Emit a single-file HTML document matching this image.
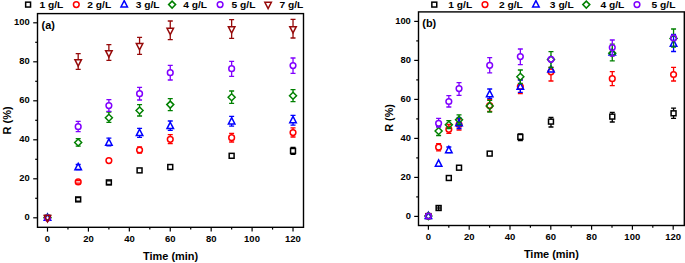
<!DOCTYPE html>
<html><head><meta charset="utf-8"><style>
html,body{margin:0;padding:0;background:#fff;width:685px;height:263px;overflow:hidden}
svg{display:block}
text{font-family:"Liberation Sans",sans-serif;font-weight:bold}
</style></head><body>
<svg width="685" height="263" viewBox="0 0 685 263">
<rect width="685" height="263" fill="#fff"/>
<rect x="37.5" y="13.6" width="266.0" height="213.70000000000002" fill="none" stroke="#000" stroke-width="1.4"/>
<line x1="47.50" y1="227.3" x2="47.50" y2="231.60000000000002" stroke="#000" stroke-width="1.2"/>
<text x="44.87" y="241.60" font-size="9.5" font-family="Liberation Sans, sans-serif" font-weight="bold" fill="#000">0</text>
<line x1="67.96" y1="227.3" x2="67.96" y2="229.60000000000002" stroke="#000" stroke-width="1.2"/>
<line x1="88.42" y1="227.3" x2="88.42" y2="231.60000000000002" stroke="#000" stroke-width="1.2"/>
<text x="83.17" y="241.60" font-size="9.5" font-family="Liberation Sans, sans-serif" font-weight="bold" fill="#000">20</text>
<line x1="108.88" y1="227.3" x2="108.88" y2="229.60000000000002" stroke="#000" stroke-width="1.2"/>
<line x1="129.34" y1="227.3" x2="129.34" y2="231.60000000000002" stroke="#000" stroke-width="1.2"/>
<text x="124.18" y="241.60" font-size="9.5" font-family="Liberation Sans, sans-serif" font-weight="bold" fill="#000">40</text>
<line x1="149.80" y1="227.3" x2="149.80" y2="229.60000000000002" stroke="#000" stroke-width="1.2"/>
<line x1="170.26" y1="227.3" x2="170.26" y2="231.60000000000002" stroke="#000" stroke-width="1.2"/>
<text x="165.00" y="241.60" font-size="9.5" font-family="Liberation Sans, sans-serif" font-weight="bold" fill="#000">60</text>
<line x1="190.72" y1="227.3" x2="190.72" y2="229.60000000000002" stroke="#000" stroke-width="1.2"/>
<line x1="211.18" y1="227.3" x2="211.18" y2="231.60000000000002" stroke="#000" stroke-width="1.2"/>
<text x="205.94" y="241.60" font-size="9.5" font-family="Liberation Sans, sans-serif" font-weight="bold" fill="#000">80</text>
<line x1="231.64" y1="227.3" x2="231.64" y2="229.60000000000002" stroke="#000" stroke-width="1.2"/>
<line x1="252.10" y1="227.3" x2="252.10" y2="231.60000000000002" stroke="#000" stroke-width="1.2"/>
<text x="244.07" y="241.60" font-size="9.5" font-family="Liberation Sans, sans-serif" font-weight="bold" fill="#000">100</text>
<line x1="272.56" y1="227.3" x2="272.56" y2="229.60000000000002" stroke="#000" stroke-width="1.2"/>
<line x1="293.02" y1="227.3" x2="293.02" y2="231.60000000000002" stroke="#000" stroke-width="1.2"/>
<text x="284.99" y="241.60" font-size="9.5" font-family="Liberation Sans, sans-serif" font-weight="bold" fill="#000">120</text>
<line x1="33.2" y1="217.80" x2="37.5" y2="217.80" stroke="#000" stroke-width="1.2"/>
<text x="24.56" y="220.40" font-size="9.4" font-family="Liberation Sans, sans-serif" font-weight="bold" fill="#000">0</text>
<line x1="35.2" y1="198.30" x2="37.5" y2="198.30" stroke="#000" stroke-width="1.2"/>
<line x1="33.2" y1="178.80" x2="37.5" y2="178.80" stroke="#000" stroke-width="1.2"/>
<text x="19.33" y="181.40" font-size="9.4" font-family="Liberation Sans, sans-serif" font-weight="bold" fill="#000">20</text>
<line x1="35.2" y1="159.30" x2="37.5" y2="159.30" stroke="#000" stroke-width="1.2"/>
<line x1="33.2" y1="139.80" x2="37.5" y2="139.80" stroke="#000" stroke-width="1.2"/>
<text x="19.33" y="142.40" font-size="9.4" font-family="Liberation Sans, sans-serif" font-weight="bold" fill="#000">40</text>
<line x1="35.2" y1="120.30" x2="37.5" y2="120.30" stroke="#000" stroke-width="1.2"/>
<line x1="33.2" y1="100.80" x2="37.5" y2="100.80" stroke="#000" stroke-width="1.2"/>
<text x="19.33" y="103.40" font-size="9.4" font-family="Liberation Sans, sans-serif" font-weight="bold" fill="#000">60</text>
<line x1="35.2" y1="81.30" x2="37.5" y2="81.30" stroke="#000" stroke-width="1.2"/>
<line x1="33.2" y1="61.80" x2="37.5" y2="61.80" stroke="#000" stroke-width="1.2"/>
<text x="19.33" y="64.40" font-size="9.4" font-family="Liberation Sans, sans-serif" font-weight="bold" fill="#000">80</text>
<line x1="35.2" y1="42.30" x2="37.5" y2="42.30" stroke="#000" stroke-width="1.2"/>
<line x1="33.2" y1="22.80" x2="37.5" y2="22.80" stroke="#000" stroke-width="1.2"/>
<text x="14.10" y="25.40" font-size="9.4" font-family="Liberation Sans, sans-serif" font-weight="bold" fill="#000">100</text>
<text transform="translate(143.08 259.80) scale(0.96 1)" font-size="11.4" font-family="Liberation Sans, sans-serif" font-weight="bold" fill="#000">Time (min)</text>
<text transform="translate(10.60 134.40) rotate(-90)" font-size="11.0" font-family="Liberation Sans, sans-serif" font-weight="bold">R (%)</text>
<text x="41.56" y="28.70" font-size="10.9" font-family="Liberation Sans, sans-serif" font-weight="bold" fill="#000">(a)</text>
<rect x="418.5" y="11.9" width="265.79999999999995" height="213.6" fill="none" stroke="#000" stroke-width="1.4"/>
<line x1="428.40" y1="225.5" x2="428.40" y2="229.8" stroke="#000" stroke-width="1.2"/>
<text x="425.77" y="239.80" font-size="9.5" font-family="Liberation Sans, sans-serif" font-weight="bold" fill="#000">0</text>
<line x1="448.80" y1="225.5" x2="448.80" y2="227.8" stroke="#000" stroke-width="1.2"/>
<line x1="469.20" y1="225.5" x2="469.20" y2="229.8" stroke="#000" stroke-width="1.2"/>
<text x="463.95" y="239.80" font-size="9.5" font-family="Liberation Sans, sans-serif" font-weight="bold" fill="#000">20</text>
<line x1="489.60" y1="225.5" x2="489.60" y2="227.8" stroke="#000" stroke-width="1.2"/>
<line x1="510.00" y1="225.5" x2="510.00" y2="229.8" stroke="#000" stroke-width="1.2"/>
<text x="504.84" y="239.80" font-size="9.5" font-family="Liberation Sans, sans-serif" font-weight="bold" fill="#000">40</text>
<line x1="530.40" y1="225.5" x2="530.40" y2="227.8" stroke="#000" stroke-width="1.2"/>
<line x1="550.80" y1="225.5" x2="550.80" y2="229.8" stroke="#000" stroke-width="1.2"/>
<text x="545.54" y="239.80" font-size="9.5" font-family="Liberation Sans, sans-serif" font-weight="bold" fill="#000">60</text>
<line x1="571.20" y1="225.5" x2="571.20" y2="227.8" stroke="#000" stroke-width="1.2"/>
<line x1="591.60" y1="225.5" x2="591.60" y2="229.8" stroke="#000" stroke-width="1.2"/>
<text x="586.36" y="239.80" font-size="9.5" font-family="Liberation Sans, sans-serif" font-weight="bold" fill="#000">80</text>
<line x1="612.00" y1="225.5" x2="612.00" y2="227.8" stroke="#000" stroke-width="1.2"/>
<line x1="632.40" y1="225.5" x2="632.40" y2="229.8" stroke="#000" stroke-width="1.2"/>
<text x="624.37" y="239.80" font-size="9.5" font-family="Liberation Sans, sans-serif" font-weight="bold" fill="#000">100</text>
<line x1="652.80" y1="225.5" x2="652.80" y2="227.8" stroke="#000" stroke-width="1.2"/>
<line x1="673.20" y1="225.5" x2="673.20" y2="229.8" stroke="#000" stroke-width="1.2"/>
<text x="665.17" y="239.80" font-size="9.5" font-family="Liberation Sans, sans-serif" font-weight="bold" fill="#000">120</text>
<line x1="414.2" y1="216.40" x2="418.5" y2="216.40" stroke="#000" stroke-width="1.2"/>
<text x="405.66" y="219.00" font-size="9.4" font-family="Liberation Sans, sans-serif" font-weight="bold" fill="#000">0</text>
<line x1="416.2" y1="196.90" x2="418.5" y2="196.90" stroke="#000" stroke-width="1.2"/>
<line x1="414.2" y1="177.40" x2="418.5" y2="177.40" stroke="#000" stroke-width="1.2"/>
<text x="400.43" y="180.00" font-size="9.4" font-family="Liberation Sans, sans-serif" font-weight="bold" fill="#000">20</text>
<line x1="416.2" y1="157.90" x2="418.5" y2="157.90" stroke="#000" stroke-width="1.2"/>
<line x1="414.2" y1="138.40" x2="418.5" y2="138.40" stroke="#000" stroke-width="1.2"/>
<text x="400.43" y="141.00" font-size="9.4" font-family="Liberation Sans, sans-serif" font-weight="bold" fill="#000">40</text>
<line x1="416.2" y1="118.90" x2="418.5" y2="118.90" stroke="#000" stroke-width="1.2"/>
<line x1="414.2" y1="99.40" x2="418.5" y2="99.40" stroke="#000" stroke-width="1.2"/>
<text x="400.43" y="102.00" font-size="9.4" font-family="Liberation Sans, sans-serif" font-weight="bold" fill="#000">60</text>
<line x1="416.2" y1="79.90" x2="418.5" y2="79.90" stroke="#000" stroke-width="1.2"/>
<line x1="414.2" y1="60.40" x2="418.5" y2="60.40" stroke="#000" stroke-width="1.2"/>
<text x="400.43" y="63.00" font-size="9.4" font-family="Liberation Sans, sans-serif" font-weight="bold" fill="#000">80</text>
<line x1="416.2" y1="40.90" x2="418.5" y2="40.90" stroke="#000" stroke-width="1.2"/>
<line x1="414.2" y1="21.40" x2="418.5" y2="21.40" stroke="#000" stroke-width="1.2"/>
<text x="395.20" y="24.00" font-size="9.4" font-family="Liberation Sans, sans-serif" font-weight="bold" fill="#000">100</text>
<text transform="translate(523.88 258.00) scale(0.96 1)" font-size="11.4" font-family="Liberation Sans, sans-serif" font-weight="bold" fill="#000">Time (min)</text>
<text transform="translate(393.00 131.69) rotate(-90)" font-size="10.8" font-family="Liberation Sans, sans-serif" font-weight="bold">R (%)</text>
<text x="422.26" y="26.90" font-size="10.9" font-family="Liberation Sans, sans-serif" font-weight="bold" fill="#000">(b)</text>
<rect x="25.65" y="2.15" width="4.9" height="4.9" fill="none" stroke="#000000" stroke-width="1.5"/>
<text transform="translate(39.41 7.75) scale(1.075 1)" font-size="9.5" font-family="Liberation Sans, sans-serif" font-weight="bold" fill="#000">1 g/L</text>
<circle cx="76.30" cy="4.60" r="2.85" fill="none" stroke="#ff0000" stroke-width="1.5"/>
<text transform="translate(87.30 7.75) scale(1.075 1)" font-size="9.5" font-family="Liberation Sans, sans-serif" font-weight="bold" fill="#000">2 g/L</text>
<path d="M124.20 0.65L127.45 6.95L120.95 6.95Z" fill="none" stroke="#0000ff" stroke-width="1.5"/>
<text transform="translate(135.67 7.75) scale(1.075 1)" font-size="9.5" font-family="Liberation Sans, sans-serif" font-weight="bold" fill="#000">3 g/L</text>
<path d="M172.10 1.10L175.60 4.60L172.10 8.10L168.60 4.60Z" fill="none" stroke="#008000" stroke-width="1.5"/>
<text transform="translate(183.25 7.75) scale(1.075 1)" font-size="9.5" font-family="Liberation Sans, sans-serif" font-weight="bold" fill="#000">4 g/L</text>
<circle cx="220.10" cy="4.60" r="2.85" fill="none" stroke="#8000ff" stroke-width="1.5"/>
<text transform="translate(231.59 7.75) scale(1.075 1)" font-size="9.5" font-family="Liberation Sans, sans-serif" font-weight="bold" fill="#000">5 g/L</text>
<path d="M264.85 2.25L271.35 2.25L268.10 8.55Z" fill="none" stroke="#960a0a" stroke-width="1.5"/>
<text transform="translate(279.46 7.75) scale(1.075 1)" font-size="9.5" font-family="Liberation Sans, sans-serif" font-weight="bold" fill="#000">7 g/L</text>
<rect x="431.85" y="2.15" width="4.9" height="4.9" fill="none" stroke="#000000" stroke-width="1.5"/>
<text transform="translate(448.36 7.75) scale(1.075 1)" font-size="9.5" font-family="Liberation Sans, sans-serif" font-weight="bold" fill="#000">1 g/L</text>
<circle cx="485.00" cy="4.60" r="2.85" fill="none" stroke="#ff0000" stroke-width="1.5"/>
<text transform="translate(498.95 7.75) scale(1.075 1)" font-size="9.5" font-family="Liberation Sans, sans-serif" font-weight="bold" fill="#000">2 g/L</text>
<path d="M535.90 0.65L539.15 6.95L532.65 6.95Z" fill="none" stroke="#0000ff" stroke-width="1.5"/>
<text transform="translate(549.87 7.75) scale(1.075 1)" font-size="9.5" font-family="Liberation Sans, sans-serif" font-weight="bold" fill="#000">3 g/L</text>
<path d="M586.30 1.10L589.80 4.60L586.30 8.10L582.80 4.60Z" fill="none" stroke="#008000" stroke-width="1.5"/>
<text transform="translate(600.45 7.75) scale(1.075 1)" font-size="9.5" font-family="Liberation Sans, sans-serif" font-weight="bold" fill="#000">4 g/L</text>
<circle cx="637.00" cy="4.60" r="2.85" fill="none" stroke="#8000ff" stroke-width="1.5"/>
<text transform="translate(651.59 7.75) scale(1.075 1)" font-size="9.5" font-family="Liberation Sans, sans-serif" font-weight="bold" fill="#000">5 g/L</text>
<rect x="45.05" y="215.35" width="4.9" height="4.9" fill="none" stroke="#000000" stroke-width="1.5"/>
<path d="M75.69 197.70H80.69M75.69 201.10H80.69" stroke="#000000" stroke-width="1.3" fill="none"/>
<rect x="75.74" y="196.95" width="4.9" height="4.9" fill="none" stroke="#000000" stroke-width="1.5"/>
<path d="M106.38 180.90H111.38M106.38 184.50H111.38" stroke="#000000" stroke-width="1.3" fill="none"/>
<rect x="106.43" y="179.95" width="4.9" height="4.9" fill="none" stroke="#000000" stroke-width="1.5"/>
<rect x="137.12" y="167.95" width="4.9" height="4.9" fill="none" stroke="#000000" stroke-width="1.5"/>
<rect x="167.81" y="164.55" width="4.9" height="4.9" fill="none" stroke="#000000" stroke-width="1.5"/>
<rect x="229.19" y="153.35" width="4.9" height="4.9" fill="none" stroke="#000000" stroke-width="1.5"/>
<path d="M290.52 147.40H295.52M290.52 154.40H295.52M293.02 147.40V148.45M293.02 153.35V154.40" stroke="#000000" stroke-width="1.3" fill="none"/>
<rect x="290.57" y="148.45" width="4.9" height="4.9" fill="none" stroke="#000000" stroke-width="1.5"/>
<circle cx="47.50" cy="217.80" r="2.85" fill="none" stroke="#ff0000" stroke-width="1.5"/>
<path d="M75.69 180.60H80.69M75.69 183.20H80.69" stroke="#ff0000" stroke-width="1.3" fill="none"/>
<circle cx="78.19" cy="181.90" r="2.85" fill="none" stroke="#ff0000" stroke-width="1.5"/>
<circle cx="108.88" cy="160.60" r="2.85" fill="none" stroke="#ff0000" stroke-width="1.5"/>
<path d="M137.07 146.90H142.07M137.07 153.10H142.07M139.57 146.90V147.15M139.57 152.85V153.10" stroke="#ff0000" stroke-width="1.3" fill="none"/>
<circle cx="139.57" cy="150.00" r="2.85" fill="none" stroke="#ff0000" stroke-width="1.5"/>
<path d="M167.76 134.70H172.76M167.76 143.60H172.76M170.26 134.70V136.45M170.26 142.15V143.60" stroke="#ff0000" stroke-width="1.3" fill="none"/>
<circle cx="170.26" cy="139.30" r="2.85" fill="none" stroke="#ff0000" stroke-width="1.5"/>
<path d="M229.14 133.30H234.14M229.14 142.00H234.14M231.64 133.30V134.85M231.64 140.55V142.00" stroke="#ff0000" stroke-width="1.3" fill="none"/>
<circle cx="231.64" cy="137.70" r="2.85" fill="none" stroke="#ff0000" stroke-width="1.5"/>
<path d="M290.52 127.90H295.52M290.52 137.00H295.52M293.02 127.90V129.75M293.02 135.45V137.00" stroke="#ff0000" stroke-width="1.3" fill="none"/>
<circle cx="293.02" cy="132.60" r="2.85" fill="none" stroke="#ff0000" stroke-width="1.5"/>
<path d="M47.50 213.85L50.75 220.15L44.25 220.15Z" fill="none" stroke="#0000ff" stroke-width="1.5"/>
<path d="M75.69 164.50H80.69M75.69 169.50H80.69" stroke="#0000ff" stroke-width="1.3" fill="none"/>
<path d="M78.19 163.45L81.44 169.75L74.94 169.75Z" fill="none" stroke="#0000ff" stroke-width="1.5"/>
<path d="M106.38 138.20H111.38M106.38 145.80H111.38M108.88 138.20V138.85M108.88 145.15V145.80" stroke="#0000ff" stroke-width="1.3" fill="none"/>
<path d="M108.88 138.85L112.13 145.15L105.63 145.15Z" fill="none" stroke="#0000ff" stroke-width="1.5"/>
<path d="M137.07 128.30H142.07M137.07 137.30H142.07M139.57 128.30V129.25M139.57 135.55V137.30" stroke="#0000ff" stroke-width="1.3" fill="none"/>
<path d="M139.57 129.25L142.82 135.55L136.32 135.55Z" fill="none" stroke="#0000ff" stroke-width="1.5"/>
<path d="M167.76 121.00H172.76M167.76 130.30H172.76M170.26 121.00V122.25M170.26 128.55V130.30" stroke="#0000ff" stroke-width="1.3" fill="none"/>
<path d="M170.26 122.25L173.51 128.55L167.01 128.55Z" fill="none" stroke="#0000ff" stroke-width="1.5"/>
<path d="M229.14 116.40H234.14M229.14 126.20H234.14M231.64 116.40V117.65M231.64 123.95V126.20" stroke="#0000ff" stroke-width="1.3" fill="none"/>
<path d="M231.64 117.65L234.89 123.95L228.39 123.95Z" fill="none" stroke="#0000ff" stroke-width="1.5"/>
<path d="M290.52 115.40H295.52M290.52 125.20H295.52M293.02 115.40V116.35M293.02 122.65V125.20" stroke="#0000ff" stroke-width="1.3" fill="none"/>
<path d="M293.02 116.35L296.27 122.65L289.77 122.65Z" fill="none" stroke="#0000ff" stroke-width="1.5"/>
<path d="M47.50 214.30L51.00 217.80L47.50 221.30L44.00 217.80Z" fill="none" stroke="#008000" stroke-width="1.5"/>
<path d="M75.69 138.60H80.69M75.69 146.20H80.69M78.19 138.60V139.00M78.19 146.00V146.20" stroke="#008000" stroke-width="1.3" fill="none"/>
<path d="M78.19 139.00L81.69 142.50L78.19 146.00L74.69 142.50Z" fill="none" stroke="#008000" stroke-width="1.5"/>
<path d="M106.38 112.00H111.38M106.38 122.40H111.38M108.88 112.00V114.20M108.88 121.20V122.40" stroke="#008000" stroke-width="1.3" fill="none"/>
<path d="M108.88 114.20L112.38 117.70L108.88 121.20L105.38 117.70Z" fill="none" stroke="#008000" stroke-width="1.5"/>
<path d="M137.07 104.70H142.07M137.07 116.00H142.07M139.57 104.70V107.00M139.57 114.00V116.00" stroke="#008000" stroke-width="1.3" fill="none"/>
<path d="M139.57 107.00L143.07 110.50L139.57 114.00L136.07 110.50Z" fill="none" stroke="#008000" stroke-width="1.5"/>
<path d="M167.76 98.70H172.76M167.76 110.60H172.76M170.26 98.70V101.10M170.26 108.10V110.60" stroke="#008000" stroke-width="1.3" fill="none"/>
<path d="M170.26 101.10L173.76 104.60L170.26 108.10L166.76 104.60Z" fill="none" stroke="#008000" stroke-width="1.5"/>
<path d="M229.14 91.00H234.14M229.14 103.40H234.14M231.64 91.00V93.80M231.64 100.80V103.40" stroke="#008000" stroke-width="1.3" fill="none"/>
<path d="M231.64 93.80L235.14 97.30L231.64 100.80L228.14 97.30Z" fill="none" stroke="#008000" stroke-width="1.5"/>
<path d="M290.52 89.60H295.52M290.52 101.60H295.52M293.02 89.60V92.30M293.02 99.30V101.60" stroke="#008000" stroke-width="1.3" fill="none"/>
<path d="M293.02 92.30L296.52 95.80L293.02 99.30L289.52 95.80Z" fill="none" stroke="#008000" stroke-width="1.5"/>
<circle cx="47.50" cy="217.80" r="2.85" fill="none" stroke="#8000ff" stroke-width="1.5"/>
<path d="M75.69 121.40H80.69M75.69 131.60H80.69M78.19 121.40V123.85M78.19 129.55V131.60" stroke="#8000ff" stroke-width="1.3" fill="none"/>
<circle cx="78.19" cy="126.70" r="2.85" fill="none" stroke="#8000ff" stroke-width="1.5"/>
<path d="M106.38 99.60H111.38M106.38 111.30H111.38M108.88 99.60V102.75M108.88 108.45V111.30" stroke="#8000ff" stroke-width="1.3" fill="none"/>
<circle cx="108.88" cy="105.60" r="2.85" fill="none" stroke="#8000ff" stroke-width="1.5"/>
<path d="M137.07 87.30H142.07M137.07 100.00H142.07M139.57 87.30V90.85M139.57 96.55V100.00" stroke="#8000ff" stroke-width="1.3" fill="none"/>
<circle cx="139.57" cy="93.70" r="2.85" fill="none" stroke="#8000ff" stroke-width="1.5"/>
<path d="M167.76 65.40H172.76M167.76 80.00H172.76M170.26 65.40V69.85M170.26 75.55V80.00" stroke="#8000ff" stroke-width="1.3" fill="none"/>
<circle cx="170.26" cy="72.70" r="2.85" fill="none" stroke="#8000ff" stroke-width="1.5"/>
<path d="M229.14 61.40H234.14M229.14 76.30H234.14M231.64 61.40V65.85M231.64 71.55V76.30" stroke="#8000ff" stroke-width="1.3" fill="none"/>
<circle cx="231.64" cy="68.70" r="2.85" fill="none" stroke="#8000ff" stroke-width="1.5"/>
<path d="M290.52 58.00H295.52M290.52 73.30H295.52M293.02 58.00V62.75M293.02 68.45V73.30" stroke="#8000ff" stroke-width="1.3" fill="none"/>
<circle cx="293.02" cy="65.60" r="2.85" fill="none" stroke="#8000ff" stroke-width="1.5"/>
<path d="M44.25 215.45L50.75 215.45L47.50 221.75Z" fill="none" stroke="#960a0a" stroke-width="1.5"/>
<path d="M75.69 53.60H80.69M75.69 69.30H80.69M78.19 53.60V59.70M78.19 66.00V69.30" stroke="#960a0a" stroke-width="1.3" fill="none"/>
<path d="M74.94 59.70L81.44 59.70L78.19 66.00Z" fill="none" stroke="#960a0a" stroke-width="1.5"/>
<path d="M106.38 44.60H111.38M106.38 60.30H111.38M108.88 44.60V50.70M108.88 57.00V60.30" stroke="#960a0a" stroke-width="1.3" fill="none"/>
<path d="M105.63 50.70L112.13 50.70L108.88 57.00Z" fill="none" stroke="#960a0a" stroke-width="1.5"/>
<path d="M137.07 37.30H142.07M137.07 54.40H142.07M139.57 37.30V43.50M139.57 49.80V54.40" stroke="#960a0a" stroke-width="1.3" fill="none"/>
<path d="M136.32 43.50L142.82 43.50L139.57 49.80Z" fill="none" stroke="#960a0a" stroke-width="1.5"/>
<path d="M167.76 21.00H172.76M167.76 39.60H172.76M170.26 21.00V28.35M170.26 34.65V39.60" stroke="#960a0a" stroke-width="1.3" fill="none"/>
<path d="M167.01 28.35L173.51 28.35L170.26 34.65Z" fill="none" stroke="#960a0a" stroke-width="1.5"/>
<path d="M229.14 19.70H234.14M229.14 38.30H234.14M231.64 19.70V26.85M231.64 33.15V38.30" stroke="#960a0a" stroke-width="1.3" fill="none"/>
<path d="M228.39 26.85L234.89 26.85L231.64 33.15Z" fill="none" stroke="#960a0a" stroke-width="1.5"/>
<path d="M290.52 19.30H295.52M290.52 38.00H295.52M293.02 19.30V26.65M293.02 32.95V38.00" stroke="#960a0a" stroke-width="1.3" fill="none"/>
<path d="M289.77 26.65L296.27 26.65L293.02 32.95Z" fill="none" stroke="#960a0a" stroke-width="1.5"/>
<rect x="425.95" y="213.65" width="4.9" height="4.9" fill="none" stroke="#000000" stroke-width="1.5"/>
<path d="M436.11 205.65H441.11M436.11 210.35H441.11M438.61 205.65V210.35" stroke="#000000" stroke-width="1.3" fill="none"/><path d="M436.26 208.00H440.96" stroke="#000" stroke-width="1.3"/>
<rect x="436.16" y="205.55" width="4.9" height="4.9" fill="none" stroke="#000000" stroke-width="1.5"/>
<rect x="446.38" y="175.55" width="4.9" height="4.9" fill="none" stroke="#000000" stroke-width="1.5"/>
<rect x="456.59" y="165.25" width="4.9" height="4.9" fill="none" stroke="#000000" stroke-width="1.5"/>
<rect x="487.24" y="151.15" width="4.9" height="4.9" fill="none" stroke="#000000" stroke-width="1.5"/>
<path d="M517.84 133.90H522.84M517.84 140.60H522.84M520.34 133.90V134.45M520.34 139.35V140.60" stroke="#000000" stroke-width="1.3" fill="none"/>
<rect x="517.88" y="134.45" width="4.9" height="4.9" fill="none" stroke="#000000" stroke-width="1.5"/>
<path d="M548.48 117.30H553.48M548.48 127.00H553.48M550.98 117.30V119.15M550.98 124.05V127.00" stroke="#000000" stroke-width="1.3" fill="none"/>
<rect x="548.53" y="119.15" width="4.9" height="4.9" fill="none" stroke="#000000" stroke-width="1.5"/>
<path d="M609.77 112.30H614.77M609.77 122.00H614.77M612.27 112.30V114.15M612.27 119.05V122.00" stroke="#000000" stroke-width="1.3" fill="none"/>
<rect x="609.82" y="114.15" width="4.9" height="4.9" fill="none" stroke="#000000" stroke-width="1.5"/>
<path d="M671.06 108.20H676.06M671.06 118.40H676.06M673.56 108.20V110.85M673.56 115.75V118.40" stroke="#000000" stroke-width="1.3" fill="none"/>
<rect x="671.11" y="110.85" width="4.9" height="4.9" fill="none" stroke="#000000" stroke-width="1.5"/>
<circle cx="428.40" cy="216.10" r="2.85" fill="none" stroke="#ff0000" stroke-width="1.5"/>
<path d="M436.11 143.60H441.11M436.11 150.90H441.11M438.61 143.60V144.35M438.61 150.05V150.90" stroke="#ff0000" stroke-width="1.3" fill="none"/>
<circle cx="438.61" cy="147.20" r="2.85" fill="none" stroke="#ff0000" stroke-width="1.5"/>
<path d="M446.33 124.50H451.33M446.33 133.40H451.33M448.83 124.50V126.45M448.83 132.15V133.40" stroke="#ff0000" stroke-width="1.3" fill="none"/>
<circle cx="448.83" cy="129.30" r="2.85" fill="none" stroke="#ff0000" stroke-width="1.5"/>
<path d="M456.54 119.00H461.54M456.54 130.00H461.54M459.04 119.00V121.65M459.04 127.35V130.00" stroke="#ff0000" stroke-width="1.3" fill="none"/>
<circle cx="459.04" cy="124.50" r="2.85" fill="none" stroke="#ff0000" stroke-width="1.5"/>
<path d="M487.19 99.30H492.19M487.19 111.30H492.19M489.69 99.30V102.65M489.69 108.35V111.30" stroke="#ff0000" stroke-width="1.3" fill="none"/>
<circle cx="489.69" cy="105.50" r="2.85" fill="none" stroke="#ff0000" stroke-width="1.5"/>
<path d="M517.84 79.60H522.84M517.84 93.60H522.84M520.34 79.60V83.65M520.34 89.35V93.60" stroke="#ff0000" stroke-width="1.3" fill="none"/>
<circle cx="520.34" cy="86.50" r="2.85" fill="none" stroke="#ff0000" stroke-width="1.5"/>
<path d="M548.48 67.50H553.48M548.48 81.00H553.48M550.98 67.50V68.95M550.98 74.65V81.00" stroke="#ff0000" stroke-width="1.3" fill="none"/>
<circle cx="550.98" cy="71.80" r="2.85" fill="none" stroke="#ff0000" stroke-width="1.5"/>
<path d="M609.77 71.70H614.77M609.77 85.60H614.77M612.27 71.70V75.85M612.27 81.55V85.60" stroke="#ff0000" stroke-width="1.3" fill="none"/>
<circle cx="612.27" cy="78.70" r="2.85" fill="none" stroke="#ff0000" stroke-width="1.5"/>
<path d="M671.06 67.30H676.06M671.06 81.00H676.06M673.56 67.30V71.65M673.56 77.35V81.00" stroke="#ff0000" stroke-width="1.3" fill="none"/>
<circle cx="673.56" cy="74.50" r="2.85" fill="none" stroke="#ff0000" stroke-width="1.5"/>
<path d="M428.40 212.25L431.65 218.55L425.15 218.55Z" fill="none" stroke="#0000ff" stroke-width="1.5"/>
<path d="M438.61 159.95L441.86 166.25L435.36 166.25Z" fill="none" stroke="#0000ff" stroke-width="1.5"/>
<path d="M446.33 147.00H451.33M446.33 152.60H451.33" stroke="#0000ff" stroke-width="1.3" fill="none"/>
<path d="M448.83 146.35L452.08 152.65L445.58 152.65Z" fill="none" stroke="#0000ff" stroke-width="1.5"/>
<path d="M456.54 118.00H461.54M456.54 128.50H461.54M459.04 118.00V119.55M459.04 125.85V128.50" stroke="#0000ff" stroke-width="1.3" fill="none"/>
<path d="M459.04 119.55L462.29 125.85L455.79 125.85Z" fill="none" stroke="#0000ff" stroke-width="1.5"/>
<path d="M487.19 89.00H492.19M487.19 98.30H492.19M489.69 89.00V90.45M489.69 96.75V98.30" stroke="#0000ff" stroke-width="1.3" fill="none"/>
<path d="M489.69 90.45L492.94 96.75L486.44 96.75Z" fill="none" stroke="#0000ff" stroke-width="1.5"/>
<path d="M517.84 80.00H522.84M517.84 92.30H522.84M520.34 80.00V82.85M520.34 89.15V92.30" stroke="#0000ff" stroke-width="1.3" fill="none"/>
<path d="M520.34 82.85L523.59 89.15L517.09 89.15Z" fill="none" stroke="#0000ff" stroke-width="1.5"/>
<path d="M550.98 65.75L554.23 72.05L547.73 72.05Z" fill="none" stroke="#0000ff" stroke-width="1.5"/>
<path d="M612.27 48.75L615.52 55.05L609.02 55.05Z" fill="none" stroke="#0000ff" stroke-width="1.5"/>
<path d="M671.06 34.30H676.06M671.06 51.50H676.06M673.56 34.30V39.85M673.56 46.15V51.50" stroke="#0000ff" stroke-width="1.3" fill="none"/>
<path d="M673.56 39.85L676.81 46.15L670.31 46.15Z" fill="none" stroke="#0000ff" stroke-width="1.5"/>
<path d="M428.40 212.60L431.90 216.10L428.40 219.60L424.90 216.10Z" fill="none" stroke="#008000" stroke-width="1.5"/>
<path d="M436.11 126.50H441.11M436.11 135.50H441.11M438.61 126.50V127.50M438.61 134.50V135.50" stroke="#008000" stroke-width="1.3" fill="none"/>
<path d="M438.61 127.50L442.11 131.00L438.61 134.50L435.11 131.00Z" fill="none" stroke="#008000" stroke-width="1.5"/>
<path d="M446.33 120.60H451.33M446.33 128.50H451.33M448.83 120.60V121.20M448.83 128.20V128.50" stroke="#008000" stroke-width="1.3" fill="none"/>
<path d="M448.83 121.20L452.33 124.70L448.83 128.20L445.33 124.70Z" fill="none" stroke="#008000" stroke-width="1.5"/>
<path d="M456.54 114.80H461.54M456.54 124.50H461.54M459.04 114.80V116.20M459.04 123.20V124.50" stroke="#008000" stroke-width="1.3" fill="none"/>
<path d="M459.04 116.20L462.54 119.70L459.04 123.20L455.54 119.70Z" fill="none" stroke="#008000" stroke-width="1.5"/>
<path d="M487.19 100.30H492.19M487.19 112.00H492.19M489.69 100.30V102.50M489.69 109.50V112.00" stroke="#008000" stroke-width="1.3" fill="none"/>
<path d="M489.69 102.50L493.19 106.00L489.69 109.50L486.19 106.00Z" fill="none" stroke="#008000" stroke-width="1.5"/>
<path d="M517.84 70.00H522.84M517.84 83.50H522.84M520.34 70.00V73.20M520.34 80.20V83.50" stroke="#008000" stroke-width="1.3" fill="none"/>
<path d="M520.34 73.20L523.84 76.70L520.34 80.20L516.84 76.70Z" fill="none" stroke="#008000" stroke-width="1.5"/>
<path d="M548.48 51.70H553.48M548.48 67.50H553.48M550.98 51.70V56.00M550.98 63.00V67.50" stroke="#008000" stroke-width="1.3" fill="none"/>
<path d="M550.98 56.00L554.48 59.50L550.98 63.00L547.48 59.50Z" fill="none" stroke="#008000" stroke-width="1.5"/>
<path d="M609.77 44.20H614.77M609.77 60.80H614.77M612.27 44.20V49.70M612.27 56.70V60.80" stroke="#008000" stroke-width="1.3" fill="none"/>
<path d="M612.27 49.70L615.77 53.20L612.27 56.70L608.77 53.20Z" fill="none" stroke="#008000" stroke-width="1.5"/>
<path d="M671.06 29.00H676.06M671.06 47.20H676.06M673.56 29.00V35.00M673.56 42.00V47.20" stroke="#008000" stroke-width="1.3" fill="none"/>
<path d="M673.56 35.00L677.06 38.50L673.56 42.00L670.06 38.50Z" fill="none" stroke="#008000" stroke-width="1.5"/>
<circle cx="428.40" cy="216.10" r="2.85" fill="none" stroke="#8000ff" stroke-width="1.5"/>
<path d="M436.11 118.30H441.11M436.11 127.00H441.11M438.61 118.30V120.45M438.61 126.15V127.00" stroke="#8000ff" stroke-width="1.3" fill="none"/>
<circle cx="438.61" cy="123.30" r="2.85" fill="none" stroke="#8000ff" stroke-width="1.5"/>
<path d="M446.33 95.60H451.33M446.33 107.00H451.33M448.83 95.60V98.65M448.83 104.35V107.00" stroke="#8000ff" stroke-width="1.3" fill="none"/>
<circle cx="448.83" cy="101.50" r="2.85" fill="none" stroke="#8000ff" stroke-width="1.5"/>
<path d="M456.54 82.60H461.54M456.54 95.30H461.54M459.04 82.60V85.75M459.04 91.45V95.30" stroke="#8000ff" stroke-width="1.3" fill="none"/>
<circle cx="459.04" cy="88.60" r="2.85" fill="none" stroke="#8000ff" stroke-width="1.5"/>
<path d="M487.19 57.70H492.19M487.19 72.90H492.19M489.69 57.70V62.45M489.69 68.15V72.90" stroke="#8000ff" stroke-width="1.3" fill="none"/>
<circle cx="489.69" cy="65.30" r="2.85" fill="none" stroke="#8000ff" stroke-width="1.5"/>
<path d="M517.84 49.00H522.84M517.84 64.60H522.84M520.34 49.00V53.75M520.34 59.45V64.60" stroke="#8000ff" stroke-width="1.3" fill="none"/>
<circle cx="520.34" cy="56.60" r="2.85" fill="none" stroke="#8000ff" stroke-width="1.5"/>
<circle cx="550.98" cy="59.30" r="2.85" fill="none" stroke="#8000ff" stroke-width="1.5"/>
<path d="M609.77 40.00H614.77M609.77 56.00H614.77M612.27 40.00V44.75M612.27 50.45V56.00" stroke="#8000ff" stroke-width="1.3" fill="none"/>
<circle cx="612.27" cy="47.60" r="2.85" fill="none" stroke="#8000ff" stroke-width="1.5"/>
<circle cx="673.56" cy="37.90" r="2.85" fill="none" stroke="#8000ff" stroke-width="1.5"/>
</svg>
</body></html>
